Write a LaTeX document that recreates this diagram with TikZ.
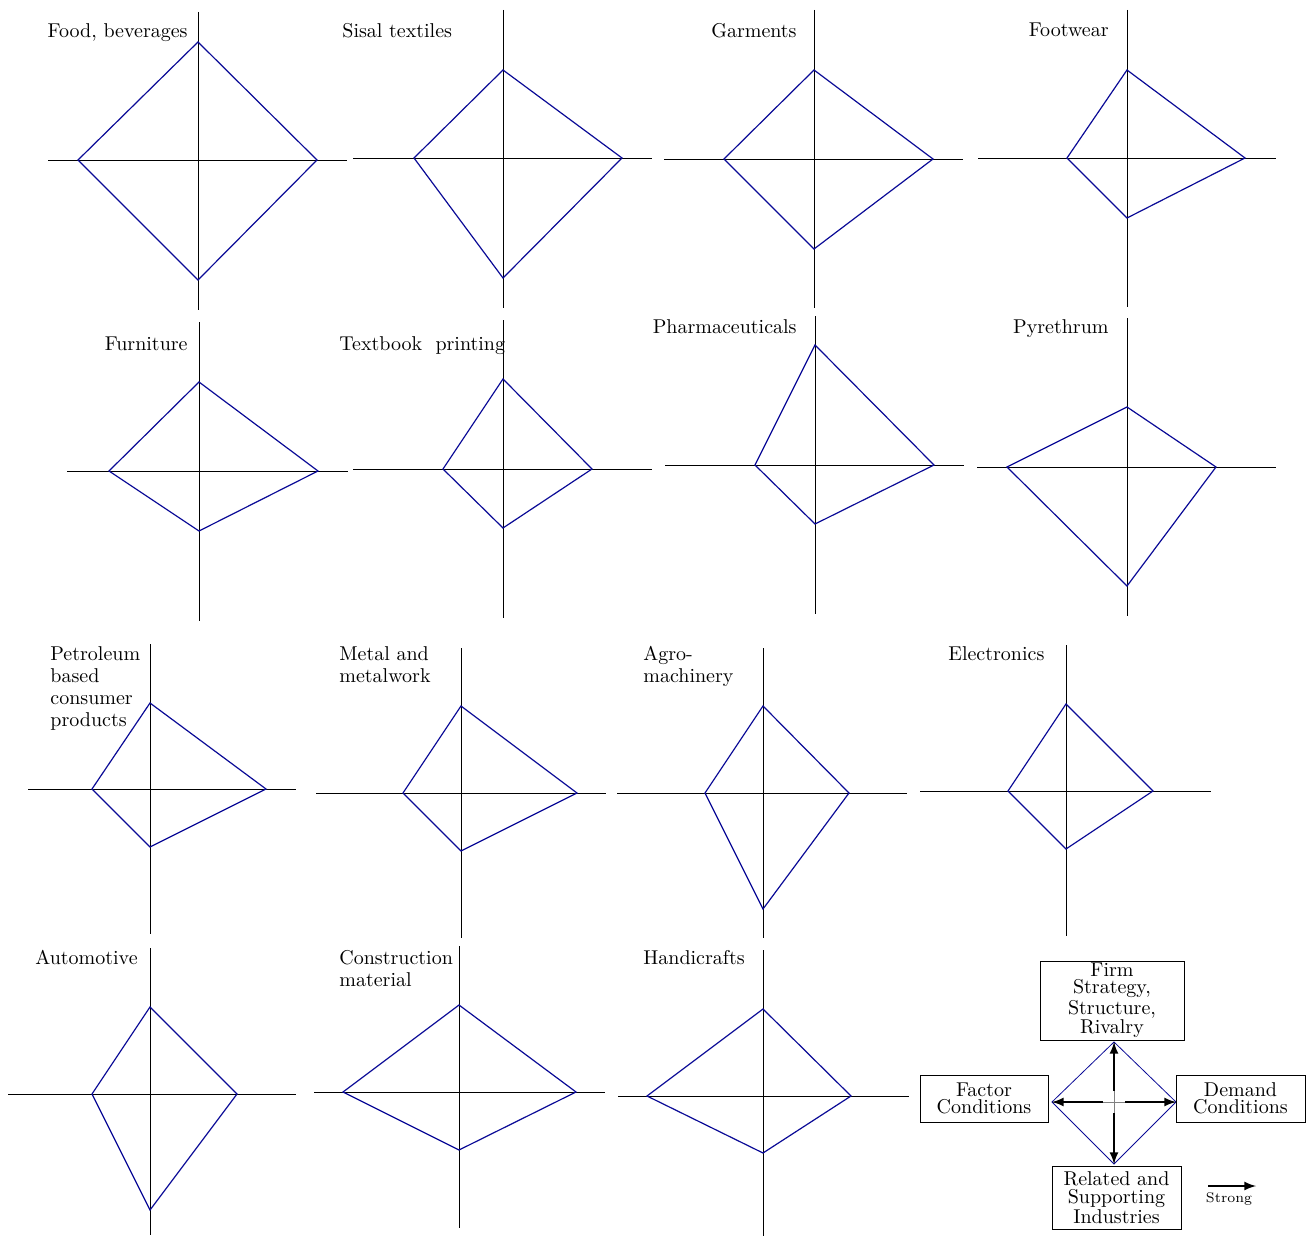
\documentclass[tikz,border=0pt]{standalone}
\usepackage{xcolor}
\usetikzlibrary{calc}

\definecolor{profileblue}{RGB}{10,10,150}

\begin{document}
\begin{tikzpicture}[x=0.5pt,y=-0.5pt,
    axis/.style={thin,black},
    profile/.style={profileblue,line width=0.6pt,line join=miter},
    title/.style={inner sep=0pt,align=left,font=\fontsize{10}{11}\selectfont},
    factor/.style={draw,thin,inner sep=1pt,align=center,font=\fontsize{10}{8.7}\selectfont},
    strong/.style={-latex,line width=1pt,shorten <=5.5pt}]
				\useasboundingbox (0,0) rectangle (1313,1236);
				
				% Draw the axes and the diamonds
				\foreach \cx/\cy/\xa/\xb/\ya/\yb/\t/\r/\b/\l in {
				  198/160/48/347/12/310/42/317/280/78,
				  503/158/353/652/10/308/70/622/278/414,
				  814/159/664/963/10/308/70/933/249/724,
				  1127/158/978/1276/10/307/70/1245/218/1067,
				  199/471/67/348/322/621/382/318/531/109,
				  503/469/353/652/320/618/379/592/528/443,
				  815/465/665/964/316/614/345/934/524/755,
				  1127/467/977/1276/318/616/407/1216/586/1007,
				  150/789/28/296/644/934/703/266/847/92,
				  461/793/316/606/648/938/706/577/851/403,
				  763/793/617/907/648/938/706/849/909/705,
				  1066/791/920/1211/645/936/704/1153/849/1008,
				  150/1094/8/296/948/1235/1007/237/1210/92,
				  459/1092/314/605/946/1228/1005/576/1150/343,
				  763/1096/618/909/950/1236/1009/851/1153/647}
				{
				  \draw[axis] (\xa,\cy) -- (\xb,\cy);
				  \draw[axis] (\cx,\ya) -- (\cx,\yb);
				  \draw[profile] (\cx,\t) -- (\r,\cy) -- (\cx,\b) -- (\l,\cy) -- cycle;
				}
				
				% Label the industries
				\node[title,anchor=north east] (food) at (188,23) {Food, beverages};
				\node[title,anchor=north west] (sisal) at (342,23) {Sisal textiles};
				\node[title,anchor=north east] (garments) at (797,23) {Garments};
				\node[title,anchor=north east] (footwear) at (1109,23) {Footwear};
				\node[title,anchor=north east] (furniture) at (188,336) {Furniture};
				\node[title,anchor=north west] (textbook) at (339,336) {Textbook\ \ printing};
				\node[title,anchor=north east] (pharma) at (797,319) {Pharmaceuticals};
				\node[title,anchor=north east] (pyrethrum) at (1109,319) {Pyrethrum};
				\node[title,anchor=north west] (petroleum) at (50,646) {Petroleum\\based\\consumer\\products};
				\node[title,anchor=north west] (metal) at (339,646) {Metal and\\metalwork};
				\node[title,anchor=north west] (agro) at (643,646) {Agro-\\machinery};
				\node[title,anchor=north west] (electronics) at (948,646) {Electronics};
				\node[title,anchor=north west] (automotive) at (35,950) {Automotive};
				\node[title,anchor=north west] (construction) at (339,950) {Construction\\material};
				\node[title,anchor=north west] (handicrafts) at (643,950) {Handicrafts};
				
				% Draw the legend
				\coordinate (lc) at (1114,1102);
				\coordinate (ltop) at (1114,1042);
				\coordinate (lright) at (1176,1102);
				\coordinate (lbot) at (1114,1164);
				\coordinate (lleft) at (1052,1102);
				\draw[gray,thin] (lleft) -- (lright);
				\draw[gray,thin] (ltop) -- (lbot);
				\draw[profileblue,thin] (ltop) -- (lright) -- (lbot) -- (lleft) -- cycle;
				\node[factor,minimum width=72pt,minimum height=39.5pt] (firm) at (1112,1000.5) {Firm\\Strategy,\\Structure,\\Rivalry};
				\node[factor,minimum width=64pt,minimum height=23.5pt] (fac) at (984,1098.5) {Factor\\Conditions};
				\node[factor,minimum width=64.5pt,minimum height=23.5pt] (dem) at (1240.5,1098.5) {Demand\\Conditions};
				\node[factor,minimum width=64.5pt,minimum height=31.5pt] (rel) at (1116.5,1197.5) {Related and\\Supporting\\Industries};
				\draw[strong] (lc) -- (ltop);
				\draw[strong] (lc) -- (lright);
				\draw[strong] (lc) -- (lbot);
				\draw[strong] (lc) -- (lleft);
				
				% Strong arrow key
				\coordinate (ka) at (1208,1186);
				\coordinate (kb) at (1256,1186);
				\draw[-latex,line width=1pt] (ka) -- (kb);
				\node[inner sep=0pt,font=\fontsize{7}{8}\selectfont,anchor=north] (key) at (1229,1192) {Strong};
			\end{tikzpicture}
\end{document}
